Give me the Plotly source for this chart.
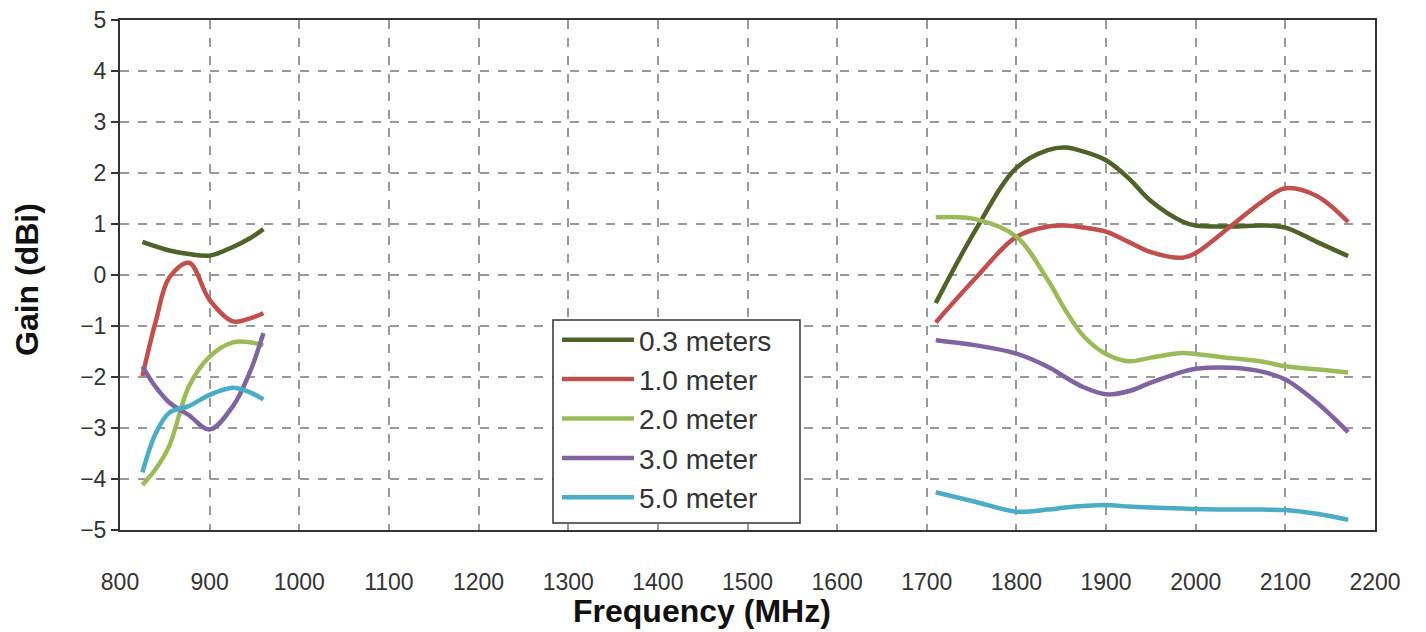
import plotly.graph_objects as go

# Low band (MHz) and high band (MHz)
freq_low = [825, 840, 855, 877, 900, 926, 945, 960]
freq_high = [1710, 1755, 1800, 1835, 1855, 1875, 1900, 1925, 1950, 1985, 2000, 2040, 2075, 2100, 2135, 2170]

names = ["0.3 meters", "1.0 meter", "2.0 meter", "3.0 meter", "5.0 meter"]
colors = ["#4F6228", "#C0504D", "#9BBB59", "#8064A2", "#4BACC6"]

# Gain (dBi) values, low band
g03_low = [0.65, 0.56, 0.48, 0.41, 0.38, 0.55, 0.72, 0.90]
g10_low = [-1.98, -0.90, -0.05, 0.24, -0.49, -0.91, -0.85, -0.75]
g20_low = [-4.12, -3.80, -3.35, -2.18, -1.60, -1.32, -1.32, -1.38]
g30_low = [-1.79, -2.20, -2.50, -2.75, -3.03, -2.57, -1.90, -1.14]
g50_low = [-3.87, -3.10, -2.70, -2.57, -2.35, -2.21, -2.30, -2.44]

# Gain (dBi) values, high band
g03_high = [-0.55, 0.90, 2.10, 2.45, 2.50, 2.42, 2.25, 1.90, 1.45, 1.05, 0.97, 0.95, 0.97, 0.93, 0.65, 0.37]
g10_high = [-0.93, -0.05, 0.75, 0.95, 0.97, 0.93, 0.85, 0.65, 0.45, 0.34, 0.43, 0.97, 1.45, 1.70, 1.55, 1.04]
g20_high = [1.13, 1.09, 0.75, -0.10, -0.70, -1.20, -1.55, -1.69, -1.62, -1.53, -1.55, -1.63, -1.70, -1.79, -1.85, -1.91]
g30_high = [-1.28, -1.38, -1.54, -1.80, -2.01, -2.20, -2.34, -2.28, -2.11, -1.90, -1.84, -1.82, -1.90, -2.05, -2.50, -3.08]
g50_high = [-4.26, -4.45, -4.64, -4.60, -4.56, -4.53, -4.51, -4.54, -4.56, -4.58, -4.59, -4.60, -4.60, -4.61, -4.68, -4.80]

low = [g03_low, g10_low, g20_low, g30_low, g50_low]
high = [g03_high, g10_high, g20_high, g30_high, g50_high]

x_ticks = list(range(800, 2201, 100))
y_ticks = list(range(-5, 6, 1))

x_title = "Frequency (MHz)"
y_title = "Gain (dBi)"

fig = go.Figure()
for name, color, yl, yh in zip(names, colors, low, high):
    fig.add_trace(go.Scatter(x=freq_low, y=yl, mode="lines", name=name,
                             line=dict(color=color, width=4.5, shape="spline", smoothing=1.0),
                             legendgroup=name, showlegend=True))
    fig.add_trace(go.Scatter(x=freq_high, y=yh, mode="lines", name=name,
                             line=dict(color=color, width=4.5, shape="spline", smoothing=1.0),
                             legendgroup=name, showlegend=False))

font_family = "Liberation Sans, Arial, sans-serif"

# screen pixel geometry of the plot area (page body has an 8px margin)
px_left, px_right, px_top, px_bottom = 120, 1375, 20, 530
pw, ph = px_right - px_left, px_bottom - px_top

# legend frame in screen pixels
lg_left, lg_right, lg_top, lg_bottom = 553, 800, 320, 523

fig.update_layout(
    width=1410, height=624,
    margin=dict(l=112, r=43, t=12, b=102, autoexpand=False),
    paper_bgcolor="white", plot_bgcolor="white",
    font=dict(family=font_family, size=22, color="#333"),
    showlegend=True,
    legend=dict(x=(lg_left + 4 - px_left) / pw, y=(px_bottom - (lg_top - 5)) / ph,
                xanchor="left", yanchor="top",
                bgcolor="rgba(0,0,0,0)", borderwidth=0,
                font=dict(size=28, color="#333"), tracegroupgap=0,
                itemwidth=72),
    shapes=[dict(type="rect", xref="paper", yref="paper", layer="above",
                 x0=(lg_left - px_left) / pw, x1=(lg_right - px_left) / pw,
                 y0=(px_bottom - lg_bottom) / ph, y1=(px_bottom - lg_top) / ph,
                 fillcolor="white", line=dict(color="#333", width=1.5))],
    xaxis=dict(range=[800, 2200], tickvals=x_ticks, ticktext=[str(v) for v in x_ticks],
               showgrid=True, gridcolor="#999", griddash="dash", gridwidth=1.5,
               showline=True, linecolor="#333", linewidth=2, mirror=True,
               ticks="", zeroline=False, ticklabelstandoff=30, automargin=False,
               ticklabeloverflow="allow", tickfont=dict(size=23)),
    yaxis=dict(range=[-5, 5], tickvals=y_ticks,
               showgrid=True, gridcolor="#999", griddash="dash", gridwidth=1.5,
               showline=True, linecolor="#333", linewidth=2, mirror=True,
               ticks="outside", ticklen=7, tickwidth=2, tickcolor="#333", zeroline=False,
               automargin=False, ticklabeloverflow="allow", tickfont=dict(size=23)),
    annotations=[
        dict(text="<b>%s</b>" % x_title, xref="paper", yref="paper",
             x=(702 - px_left) / pw, y=-(611 - px_bottom) / ph, xanchor="center", yanchor="middle",
             showarrow=False, font=dict(size=32, color="#111")),
        dict(text="<b>%s</b>" % y_title, xref="paper", yref="paper",
             x=-(px_left - 27) / pw, y=(px_bottom - 280) / ph, xanchor="center", yanchor="middle",
             textangle=-90, showarrow=False, font=dict(size=32, color="#111")),
    ],
)

fig.write_html("out.html")
